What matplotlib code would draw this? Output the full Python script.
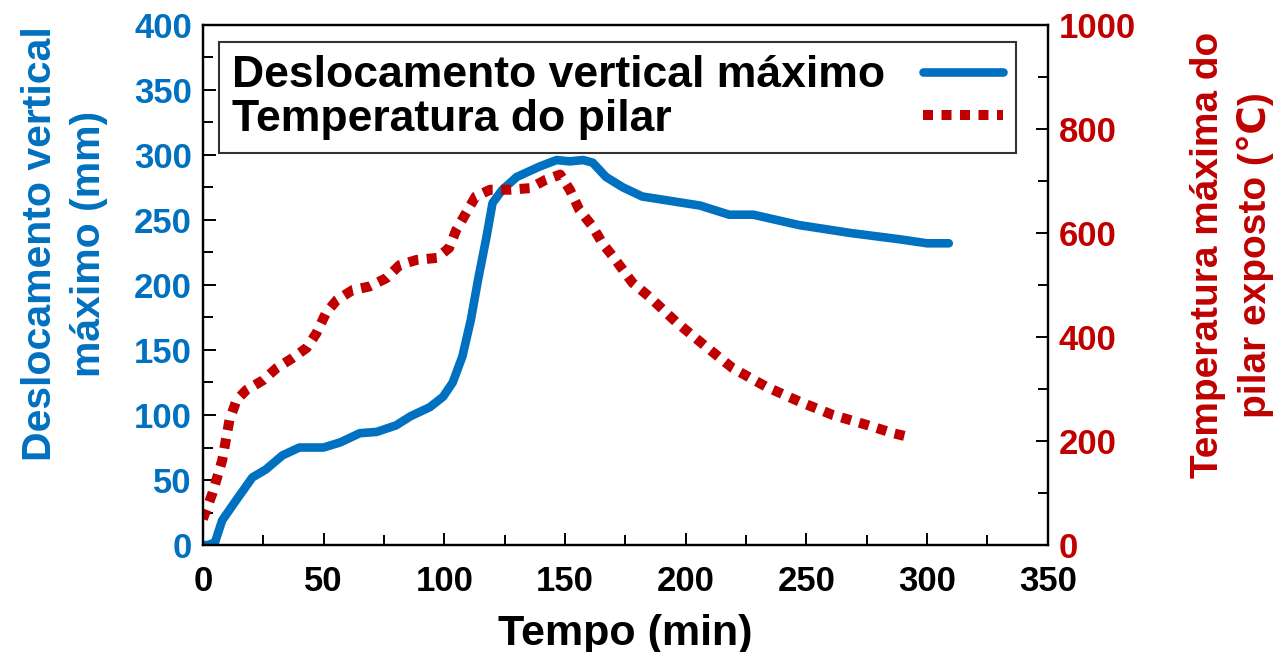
import matplotlib
matplotlib.use("Agg")
import matplotlib.pyplot as plt
from matplotlib.ticker import MultipleLocator

plt.rcParams['font.family'] = ['Liberation Sans', 'DejaVu Sans']
plt.rcParams['font.weight'] = 'bold'
plt.rcParams['axes.labelweight'] = 'bold'

# deslocamento vertical maximo (mm)
t_desl = [0, 2, 5, 8, 14, 20.5, 26, 33, 40, 50, 57, 65, 72, 80, 86, 94, 99.5,
          103.5, 107.5, 111, 114, 117.5, 120, 124, 130, 139.5, 146.5, 152,
          157.5, 161.5, 167, 174, 182, 206, 218, 228, 247, 268, 289, 300, 309]
desl = [0, 0, 2, 19, 35, 52, 58, 69, 75, 75, 79, 86, 87, 92, 99, 106, 114,
        125, 145, 173, 204, 237, 263, 273, 283, 291, 296, 295, 296, 294, 283,
        275, 268, 261, 254, 254, 246, 240, 235, 232, 232]

# temperatura do pilar (C)
t_temp = [0, 4, 8, 11, 14, 18, 25, 30.5, 37, 43, 47, 51, 55.5, 62, 69, 76,
          81.5, 88.5, 97, 102, 105, 109, 113, 119, 127, 135.5, 142, 148, 152,
          156, 161.5, 165.5, 170, 178, 185, 196, 208.5, 219.5, 233.5, 247,
          261, 275, 286, 294]
temp = [50, 100, 163, 240, 279, 298, 317, 340, 359, 379, 407, 446, 471, 490,
        497, 513, 538, 548, 552, 571, 606, 638, 670, 683, 683, 686, 702, 712,
        683, 644, 612, 580, 554, 504, 477, 429, 381, 340, 304, 276, 250, 231,
        215, 206]

azul = '#0070C0'
verm = '#C00000'
fs_tick = 25
fs_lab = 31

fig = plt.figure(figsize=(12.84, 6.52), dpi=100)
ax = fig.add_axes([0.158, 0.164, 0.658, 0.798])
ax2 = ax.twinx()

l1, = ax.plot(t_desl, desl, color=azul, lw=6.2, solid_capstyle='round',
              solid_joinstyle='round', label='Deslocamento vertical máximo')
l2, = ax2.plot(t_temp, temp, color=verm, lw=7.2, linestyle=(0, (1, 0.85)),
               dash_capstyle='butt', label='Temperatura do pilar')

ax.set_xlim(0, 350)
ax.set_ylim(0, 400)
ax2.set_ylim(0, 1000)

ax.xaxis.set_major_locator(MultipleLocator(50))
ax.xaxis.set_minor_locator(MultipleLocator(25))
ax.yaxis.set_major_locator(MultipleLocator(50))
ax.yaxis.set_minor_locator(MultipleLocator(25))
ax2.yaxis.set_major_locator(MultipleLocator(200))
ax2.yaxis.set_minor_locator(MultipleLocator(100))

for a in (ax, ax2):
    for s in a.spines.values():
        s.set_linewidth(1.6)
    a.tick_params(which='major', direction='in', length=9, width=1.4)
    a.tick_params(which='minor', direction='in', length=7, width=1.4)

ax.tick_params(axis='x', labelsize=fs_tick, pad=14)
ax.tick_params(axis='y', which='both', labelsize=fs_tick, labelcolor=azul, pad=8)
ax2.tick_params(axis='y', which='both', labelsize=fs_tick, labelcolor=verm, pad=8)

ax.set_xlabel('Tempo (min)', fontsize=fs_lab, labelpad=12)
ax.set_ylabel('Deslocamento vertical\nmáximo (mm)', fontsize=29.5,
              color=azul, linespacing=1.38)
ax.yaxis.set_label_coords(-0.112, 0.579)
ax2.set_ylabel('Temperatura máxima do\npilar exposto (℃)', fontsize=28,
               color=verm, rotation=90, linespacing=1.38)
ax2.yaxis.set_label_coords(1.168, 0.558)

leg = ax.legend([l1, l2], [l1.get_label(), l2.get_label()], loc='upper left',
                bbox_to_anchor=(0.019, 0.967), markerfirst=False, fontsize=32,
                frameon=True, fancybox=False, edgecolor='black',
                handlelength=1.8, handletextpad=0.85, borderpad=0.3,
                labelspacing=0.05, borderaxespad=0)
leg.get_frame().set_linewidth(1.5)

# alinhar os textos da legenda a esquerda
fig.canvas.draw()
r = fig.canvas.get_renderer()
widths = [t.get_window_extent(r).width for t in leg.texts]
col = leg._legend_handle_box.get_children()[0]
for item, w in zip(col.get_children(), widths):
    item.sep += (max(widths) - w) / r.points_to_pixels(1.0)

fig.savefig('out.png', dpi=100)
